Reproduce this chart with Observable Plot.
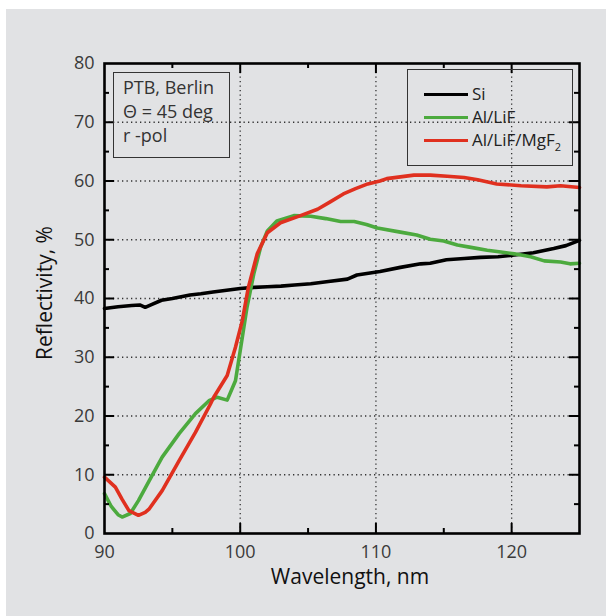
<!DOCTYPE html>
<html><head><meta charset="utf-8">
<script src="https://cdn.jsdelivr.net/npm/d3@7"></script>
<script src="https://cdn.jsdelivr.net/npm/@observablehq/plot@0.6"></script>
<style>
body{margin:0;background:#fff;font-family:"Open Sans",sans-serif;}
#wrap{position:relative;width:606px;height:616px;overflow:hidden;}
#panel{position:absolute;left:6px;top:9px;width:600px;height:607px;background:#e1e2e4;}
#chart{position:absolute;left:0;top:0;}
.box{position:absolute;box-sizing:border-box;border:1.5px solid #333;}
.t{position:absolute;white-space:nowrap;}
</style></head>
<body>
<div id="wrap">
  <div id="panel"></div>
  <div id="chart"></div>
  <div class="box" style="left:113px;top:72px;width:117px;height:86px;"></div>
  <div class="t" style="left:123px;top:75px;font-size:18px;line-height:24px;color:#333;">PTB, Berlin<br>&Theta; = 45 deg<br>r -pol</div>
  <div class="box" style="left:407px;top:69px;width:166px;height:97px;"></div>
  <div id="legend"></div>
  <div class="t" id="xtitle" style="left:350px;top:566px;transform:translateX(-50%);font-size:21px;line-height:21px;color:#111;">Wavelength, nm</div>
  <div class="t" id="ytitle" style="left:44px;top:293px;transform:translate(-50%,-50%) rotate(-90deg);font-size:21px;line-height:21px;color:#111;">Reflectivity, %</div>
</div>
<script>
const seriesNames = ["Si", "Al/LiF", "Al/LiF/MgF2"];
const seriesColors = ["#000000", "#4caa3e", "#e0301f"];

const siWl = [90, 91, 92, 92.6, 93.0, 93.5, 94.2, 95, 96.3, 97.1, 98, 99, 100, 101, 102, 103, 104, 105.2, 106.5, 107.9, 108.6, 110.3, 111.8, 113.3, 114, 115.2, 116.5, 117.7, 119, 120.2, 121.6, 123.1, 124, 125];
const siR  = [38.3, 38.6, 38.8, 38.9, 38.5, 39.0, 39.7, 40.0, 40.6, 40.8, 41.1, 41.4, 41.7, 41.9, 42.0, 42.1, 42.3, 42.5, 42.9, 43.3, 44.0, 44.6, 45.3, 45.9, 46.0, 46.6, 46.8, 47.0, 47.1, 47.4, 47.8, 48.5, 49.0, 49.9];

const lifWl = [90.0, 90.5, 91.0, 91.3, 91.9, 92.5, 93.3, 94.25, 95.5, 96.7, 97.7, 98.3, 99.04, 99.65, 100.0, 100.5, 101.0, 101.5, 102.0, 102.7, 103.95, 105.2, 106.3, 107.4, 108.4, 109.3, 110.1, 111.8, 113, 114.0, 115, 116.0, 117, 118.2, 119.2, 120.2, 121.4, 122.4, 123.6, 124.3, 125];
const lifR  = [6.8, 4.6, 3.2, 2.8, 3.4, 5.6, 9.0, 13.0, 17.0, 20.4, 22.6, 23.2, 22.7, 26.0, 31.1, 38.5, 44.2, 48.7, 51.5, 53.2, 54.1, 54.0, 53.6, 53.1, 53.1, 52.6, 52.0, 51.3, 50.8, 50.1, 49.8, 49.1, 48.7, 48.2, 47.9, 47.6, 47.1, 46.4, 46.2, 45.9, 46.0];

const mgfWl = [90.0, 90.8, 91.3, 91.8, 92.5, 93.0, 93.3, 94.25, 95.5, 96.7, 97.8, 98.05, 99.04, 99.65, 100.15, 100.6, 101.25, 102.0, 102.97, 104.44, 105.7, 106.6, 107.6, 108.5, 109.4, 110.3, 110.8, 111.8, 112.8, 114, 115.25, 116.5, 117.5, 118.9, 120.7, 122.6, 123.6, 125];
const mgfR  = [9.6, 7.9, 5.8, 3.9, 3.1, 3.6, 4.2, 7.3, 12.4, 17.2, 22.0, 23.2, 26.9, 31.7, 36.2, 41.9, 47.6, 51.2, 52.9, 54.1, 55.2, 56.4, 57.8, 58.7, 59.5, 60.0, 60.4, 60.7, 61.0, 61.0, 60.8, 60.6, 60.2, 59.5, 59.2, 59.0, 59.2, 58.9];

const xTickLabels = [90, 100, 110, 120];
const yTickLabels = [0, 10, 20, 30, 40, 50, 60, 70, 80];
const xMajorInner = [100, 110, 120];
const xMinor = [95, 105, 115];
const yMajorInner = [10, 20, 30, 40, 50, 60, 70];
const yMinor = [5, 15, 25, 35, 45, 55, 65, 75];

const wls = [siWl, lifWl, mgfWl];
const refl = [siR, lifR, mgfR];
const data = seriesNames.flatMap((s, k) => wls[k].map((w, i) => ({series: s, wl: w, r: refl[k][i]})));

const dotted = {stroke: "#333", strokeWidth: 1.3, strokeDasharray: "1.3,3.2"};
const tk = {stroke: "#000", strokeWidth: 2};

const chart = Plot.plot({
  width: 606, height: 616,
  marginLeft: 104, marginRight: 27, marginTop: 63, marginBottom: 83,
  style: {background: "transparent", fontFamily: "'Open Sans', sans-serif"},
  x: {domain: [90, 125]},
  y: {domain: [0, 80]},
  color: {domain: seriesNames, range: seriesColors},
  marks: [
    Plot.ruleX(xMajorInner, {x: d => d, ...dotted}),
    Plot.ruleY(yMajorInner, {y: d => d, ...dotted}),
    Plot.line(data, {x: "wl", y: "r", z: "series", stroke: "series", strokeWidth: 3.6, strokeLinejoin: "round", curve: "linear"}),
    // bottom ticks
    Plot.ruleX(xMajorInner, {x: d => d, y1: 0, y2: 0, insetBottom: 10, ...tk}),
    Plot.ruleX(xMinor, {x: d => d, y1: 0, y2: 0, insetBottom: 5, ...tk}),
    // top ticks
    Plot.ruleX(xMajorInner, {x: d => d, y1: 80, y2: 80, insetTop: 10, ...tk}),
    Plot.ruleX(xMinor, {x: d => d, y1: 80, y2: 80, insetTop: 5, ...tk}),
    // left ticks
    Plot.ruleY(yMajorInner, {y: d => d, x1: 90, x2: 90, insetLeft: 10, ...tk}),
    Plot.ruleY(yMinor, {y: d => d, x1: 90, x2: 90, insetLeft: 5, ...tk}),
    // right ticks
    Plot.ruleY(yMajorInner, {y: d => d, x1: 125, x2: 125, insetRight: 10, ...tk}),
    Plot.ruleY(yMinor, {y: d => d, x1: 125, x2: 125, insetRight: 5, ...tk}),
    Plot.frame({stroke: "#000", strokeWidth: 2.6}),
    Plot.axisX({ticks: xTickLabels, tickSize: 0, tickPadding: 12, fontSize: 18, label: null, color: "#3a3a3a"}),
    Plot.axisY({ticks: yTickLabels, tickSize: 0, tickPadding: 10, fontSize: 18, label: null, color: "#3a3a3a"})
  ]
});
document.getElementById("chart").appendChild(chart);

// legend
const leg = document.getElementById("legend");
seriesNames.forEach((s, i) => {
  const top = 82 + i * 23;
  const sw = document.createElement("div");
  sw.style.cssText = `position:absolute;left:424px;top:${top + 10.5}px;width:44px;height:3.6px;background:${seriesColors[i]};`;
  leg.appendChild(sw);
  const tx = document.createElement("div");
  tx.className = "t";
  tx.style.cssText = `left:472px;top:${top}px;font-size:17px;line-height:23px;color:#222;`;
  if (s === "Al/LiF/MgF2") tx.innerHTML = "Al/LiF/MgF<sub style='font-size:11px;vertical-align:-5px;line-height:0'>2</sub>";
  else tx.textContent = s;
  leg.appendChild(tx);
});
</script>
</body></html>
